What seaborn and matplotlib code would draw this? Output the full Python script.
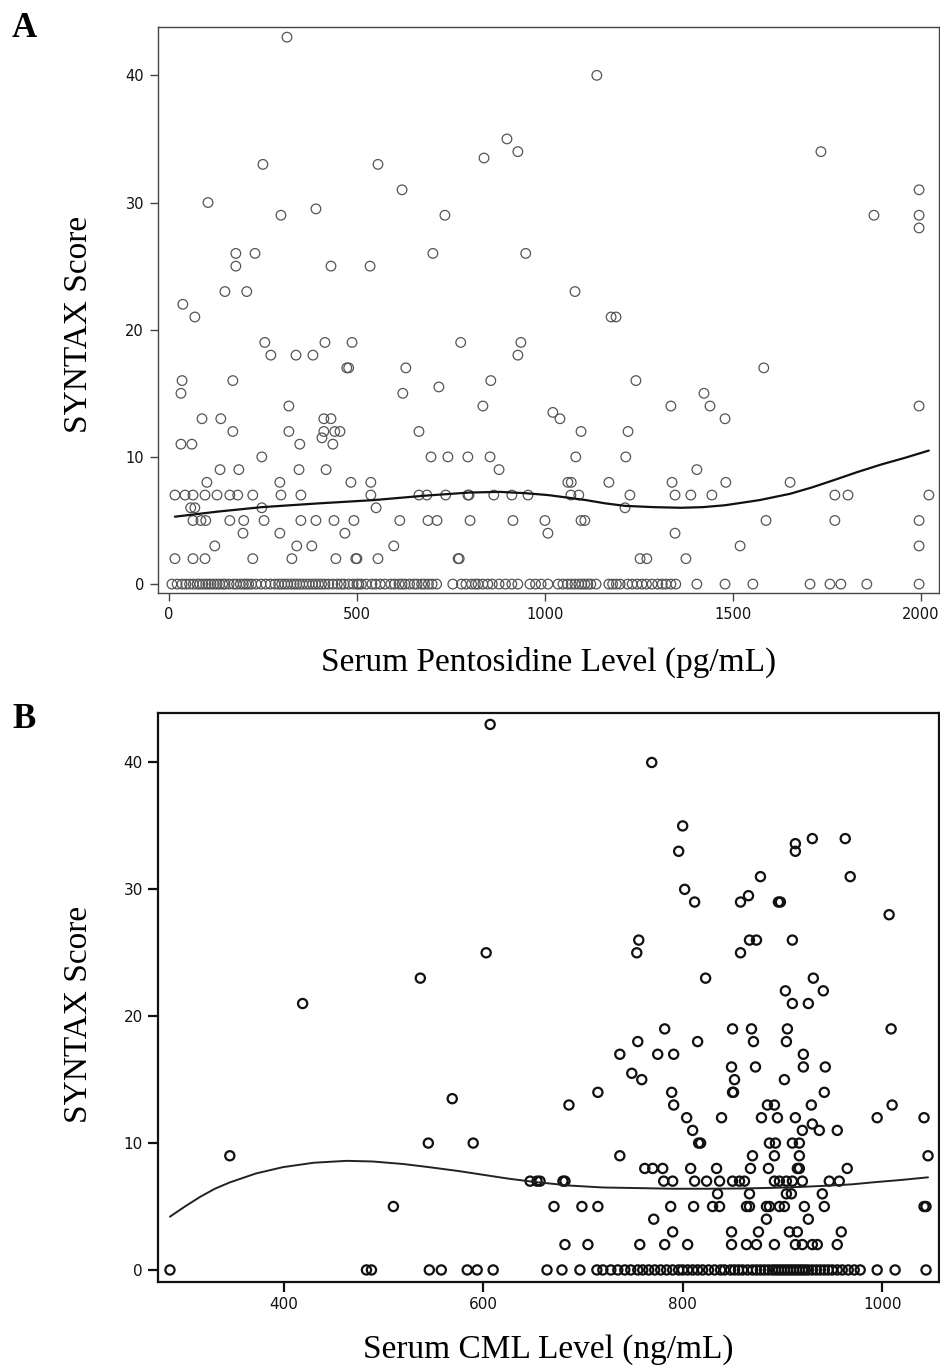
import matplotlib
matplotlib.use("Agg")
import matplotlib.pyplot as plt
import seaborn as sns
import pandas as pd

# ---------------- Panel A data: serum pentosidine (pg/mL) vs SYNTAX score ----------------
pento_x = [314, 1138, 899, 928, 1734, 838, 250, 556, 620, 1995, 104, 391,
           298, 734, 1875, 1995, 1995, 178, 229, 702, 949, 178, 431, 535,
           149, 207, 1080, 37, 69, 1176, 1189,
           255, 415, 487, 776, 936, 271, 338, 383, 928, 473, 478, 630, 1582,
           35, 170, 856, 1242, 718, 32, 622, 1423,
           319, 835, 1335, 1439, 1995, 1021, 88, 138, 412, 431, 1040, 1479,
           170, 319, 412, 441, 455, 665, 1096, 1221, 407, 32, 61, 348, 436,
           247, 697, 742, 795, 854, 1082, 1215,
           136, 186, 346, 418, 878, 1404,
           101, 295, 484, 537, 1061, 1070, 1170, 1338, 1481, 1652,
           16, 43, 64, 96, 128, 162, 183, 223, 298, 351, 537, 665, 686, 736,
           795, 798, 864, 912, 955, 1069, 1090, 1226, 1346, 1388, 1444, 1771,
           1806, 2021,
           58, 69, 247, 551, 1213,
           64, 85, 98, 162, 199, 253, 351, 391, 439, 492, 614, 689, 713, 801,
           915, 1000, 1096, 1106, 1588, 1771, 1995,
           197, 295, 468, 1008, 1346,
           122, 340, 380, 598, 1519, 1995,
           16, 64, 96, 223, 327, 444, 497, 500, 556, 769, 772, 1253, 1271, 1375]
pento_score = [43, 40, 35, 34, 34, 33.5, 33, 33, 31, 31, 30, 29.5,
               29, 29, 29, 29, 28, 26, 26, 26, 26, 25, 25, 25,
               23, 23, 23, 22, 21, 21, 21,
               19, 19, 19, 19, 19, 18, 18, 18, 18, 17, 17, 17, 17,
               16, 16, 16, 16, 15.5, 15, 15, 15,
               14, 14, 14, 14, 14, 13.5, 13, 13, 13, 13, 13, 13,
               12, 12, 12, 12, 12, 12, 12, 12, 11.5, 11, 11, 11, 11,
               10, 10, 10, 10, 10, 10, 10,
               9, 9, 9, 9, 9, 9,
               8, 8, 8, 8, 8, 8, 8, 8, 8, 8,
               7, 7, 7, 7, 7, 7, 7, 7, 7, 7, 7, 7, 7, 7,
               7, 7, 7, 7, 7, 7, 7, 7, 7, 7, 7, 7,
               7, 7,
               6, 6, 6, 6, 6,
               5, 5, 5, 5, 5, 5, 5, 5, 5, 5, 5, 5, 5, 5,
               5, 5, 5, 5, 5, 5, 5,
               4, 4, 4, 4, 4,
               3, 3, 3, 3, 3, 3,
               2, 2, 2, 2, 2, 2, 2, 2, 2, 2, 2, 2, 2, 2]
# patients with SYNTAX score 0
pento_zero_x = [8, 22, 35, 45, 55, 65, 75, 82, 90, 98, 105, 112, 120, 128, 135, 143, 149,
                160, 172, 180, 190, 198, 205, 212, 220, 232, 245,
                258, 270, 282, 292, 300, 308, 316, 325, 333, 340, 348, 356, 365, 373,
                382, 390, 398, 406, 415, 425, 436, 448, 458, 466,
                478, 490, 500, 505, 512, 525, 540, 550, 562, 575, 590, 600, 612, 620,
                628, 640, 652, 660, 672, 680, 690, 700, 712,
                755, 778, 790, 805, 815, 822, 835, 848, 860, 878, 895, 912, 928,
                960, 975, 990, 1008, 1035, 1048, 1060, 1070, 1080, 1090, 1098, 1106,
                1114, 1122, 1136,
                1170, 1180, 1190, 1200, 1220, 1232, 1245, 1258, 1270, 1285, 1300,
                1312, 1322, 1335, 1348,
                1404, 1479, 1553, 1705, 1758, 1787, 1856, 1995]
# fitted smooth curve
pento_fit_x = [16, 130, 247, 400, 543, 680, 800, 880, 947, 1008, 1060, 1110, 1160,
               1213, 1290, 1362, 1420, 1479, 1570, 1652, 1710, 1771, 1830, 1894,
               1960, 2021]
pento_fit_y = [5.3, 5.7, 6.05, 6.35, 6.6, 6.95, 7.2, 7.25, 7.15, 7.0, 6.8, 6.6, 6.35,
               6.15, 6.05, 6.0, 6.05, 6.2, 6.6, 7.1, 7.6, 8.2, 8.8, 9.4, 9.95, 10.5]

# ---------------- Panel B data: serum CML (ng/mL) vs SYNTAX score ----------------
cml_x = [607, 769, 800, 930, 963, 913, 796, 913, 878, 968, 802, 866,
         812, 858, 896, 898, 1007, 756, 867, 874, 910, 754, 858, 603,
         823, 931, 537, 903, 941, 910, 926, 419,
         782, 850, 869, 905, 1009, 755, 815, 871, 904, 737, 775, 791, 921,
         849, 873, 921, 943, 749, 759, 852, 902,
         715, 789, 850, 851, 942, 569, 686, 791, 885, 892, 929, 1010,
         804, 839, 879, 895, 913, 995, 1042, 930, 810, 920, 937, 955,
         545, 590, 816, 818, 887, 893, 910, 917,
         346, 737, 870, 892, 917, 1046,
         762, 770, 780, 808, 834, 868, 886, 915, 917, 965,
         647, 654, 657, 680, 682, 781, 790, 812, 824, 837, 850, 857, 862,
         892, 897, 904, 910, 920, 947, 957,
         835, 867, 904, 909, 940,
         510, 671, 699, 715, 788, 811, 830, 837, 864, 867, 884, 887, 897, 902,
         922, 942, 1042, 1044,
         771, 884, 926,
         790, 849, 876, 907, 915, 959,
         682, 705, 757, 782, 805, 849, 864, 874, 892, 913, 920, 930, 935, 955]
cml_score = [43, 40, 35, 34, 34, 33.6, 33, 33, 31, 31, 30, 29.5,
             29, 29, 29, 29, 28, 26, 26, 26, 26, 25, 25, 25,
             23, 23, 23, 22, 22, 21, 21, 21,
             19, 19, 19, 19, 19, 18, 18, 18, 18, 17, 17, 17, 17,
             16, 16, 16, 16, 15.5, 15, 15, 15,
             14, 14, 14, 14, 14, 13.5, 13, 13, 13, 13, 13, 13,
             12, 12, 12, 12, 12, 12, 12, 11.5, 11, 11, 11, 11,
             10, 10, 10, 10, 10, 10, 10, 10,
             9, 9, 9, 9, 9, 9,
             8, 8, 8, 8, 8, 8, 8, 8, 8, 8,
             7, 7, 7, 7, 7, 7, 7, 7, 7, 7, 7, 7, 7,
             7, 7, 7, 7, 7, 7, 7,
             6, 6, 6, 6, 6,
             5, 5, 5, 5, 5, 5, 5, 5, 5, 5, 5, 5, 5, 5,
             5, 5, 5, 5,
             4, 4, 4,
             3, 3, 3, 3, 3, 3,
             2, 2, 2, 2, 2, 2, 2, 2, 2, 2, 2, 2, 2, 2]
cml_zero_x = [286, 483, 488, 546, 558, 584, 594, 610, 664, 679, 697,
              714, 720, 728, 735, 742, 748, 755, 760, 766, 772, 778, 784, 790, 796,
              800, 805, 810, 815, 820, 826, 832, 838, 842, 848, 852, 856, 860, 865,
              870, 874, 878, 882, 886, 890, 893, 896, 899, 902, 905, 908, 911, 914,
              917, 920, 923, 926, 930, 934, 938, 942, 946, 950, 955, 960, 966, 972,
              978, 995, 1013, 1044]
cml_fit_x = [286, 301, 316, 331, 346, 372, 399, 430, 463, 489, 520, 546, 575, 600,
             625, 650, 687, 720, 757, 790, 824, 857, 890, 920, 947, 970, 990, 1020, 1046]
cml_fit_y = [4.2, 5.0, 5.75, 6.4, 6.9, 7.6, 8.1, 8.45, 8.6, 8.55, 8.35, 8.1, 7.8, 7.5,
             7.2, 6.95, 6.65, 6.5, 6.45, 6.4, 6.4, 6.42, 6.47, 6.55, 6.65, 6.75,
             6.9, 7.1, 7.3]

# ---------------- build tables ----------------
df_a = pd.DataFrame({"x": pento_x + pento_zero_x,
                     "y": pento_score + [0] * len(pento_zero_x)})
fit_a = pd.DataFrame({"x": pento_fit_x, "y": pento_fit_y})
df_b = pd.DataFrame({"x": cml_x + cml_zero_x,
                     "y": cml_score + [0] * len(cml_zero_x)})
fit_b = pd.DataFrame({"x": cml_fit_x, "y": cml_fit_y})

sns.set_style("ticks")
plt.rcParams["font.family"] = ["DejaVu Sans"]
plt.rcParams["text.color"] = "black"
plt.rcParams["axes.labelcolor"] = "black"

fig = plt.figure(figsize=(9.4, 13.66), dpi=100)
serif = ["Liberation Serif", "DejaVu Serif"]

# ---- Panel A ----
ax1 = fig.add_axes([158 / 940, 1 - 593 / 1366, 781 / 940, 566 / 1366])
sns.scatterplot(data=df_a, x="x", y="y", ax=ax1, marker="o", s=48,
                facecolor="none", edgecolor="#555555", linewidth=0.9, zorder=3)
sns.lineplot(data=fit_a, x="x", y="y", ax=ax1, color="#111111", linewidth=1.6,
             sort=True, zorder=4)
ax1.set_xlim(-29, 2048)
ax1.set_ylim(-0.7, 43.8)
ax1.set_xticks([0, 500, 1000, 1500, 2000])
ax1.set_yticks([0, 10, 20, 30, 40])
ax1.set_xlabel("Serum Pentosidine Level (pg/mL)", family=serif, fontsize=24, labelpad=18)
ax1.set_ylabel("SYNTAX Score", family=serif, fontsize=24)
ax1.yaxis.set_label_coords(-0.082, 0.475)
for s in ax1.spines.values():
    s.set_color("#444444")
    s.set_linewidth(1.0)
ax1.tick_params(direction="out", length=6, width=1, color="#444444",
                labelsize=10.5, labelcolor="#111111", pad=4)

fig.text(12 / 940, 1 - 37 / 1366, "A", family=serif, fontsize=25,
         fontweight="bold", va="baseline")

# ---- Panel B ----
ax2 = fig.add_axes([158 / 940, 1 - 1282 / 1366, 781 / 940, 569 / 1366])
sns.scatterplot(data=df_b, x="x", y="y", ax=ax2, marker="o", s=44,
                facecolor="none", edgecolor="#111111", linewidth=1.6, zorder=3)
sns.lineplot(data=fit_b, x="x", y="y", ax=ax2, color="#222222", linewidth=1.4,
             sort=True, zorder=4)
ax2.set_xlim(274, 1057)
ax2.set_ylim(-0.95, 43.9)
ax2.set_xticks([400, 600, 800, 1000])
ax2.set_yticks([0, 10, 20, 30, 40])
ax2.set_xlabel("Serum CML Level (ng/mL)", family=serif, fontsize=24, labelpad=16)
ax2.set_ylabel("SYNTAX Score", family=serif, fontsize=24)
ax2.yaxis.set_label_coords(-0.082, 0.471)
for s in ax2.spines.values():
    s.set_color("#111111")
    s.set_linewidth(1.6)
ax2.tick_params(direction="out", length=7, width=1.6, color="#111111",
                labelsize=11, labelcolor="#111111", pad=4)
fig.text(12 / 940, 1 - 728 / 1366, "B", family=serif, fontsize=25,
         fontweight="bold", va="baseline")

fig.savefig("out.png", dpi=100)
